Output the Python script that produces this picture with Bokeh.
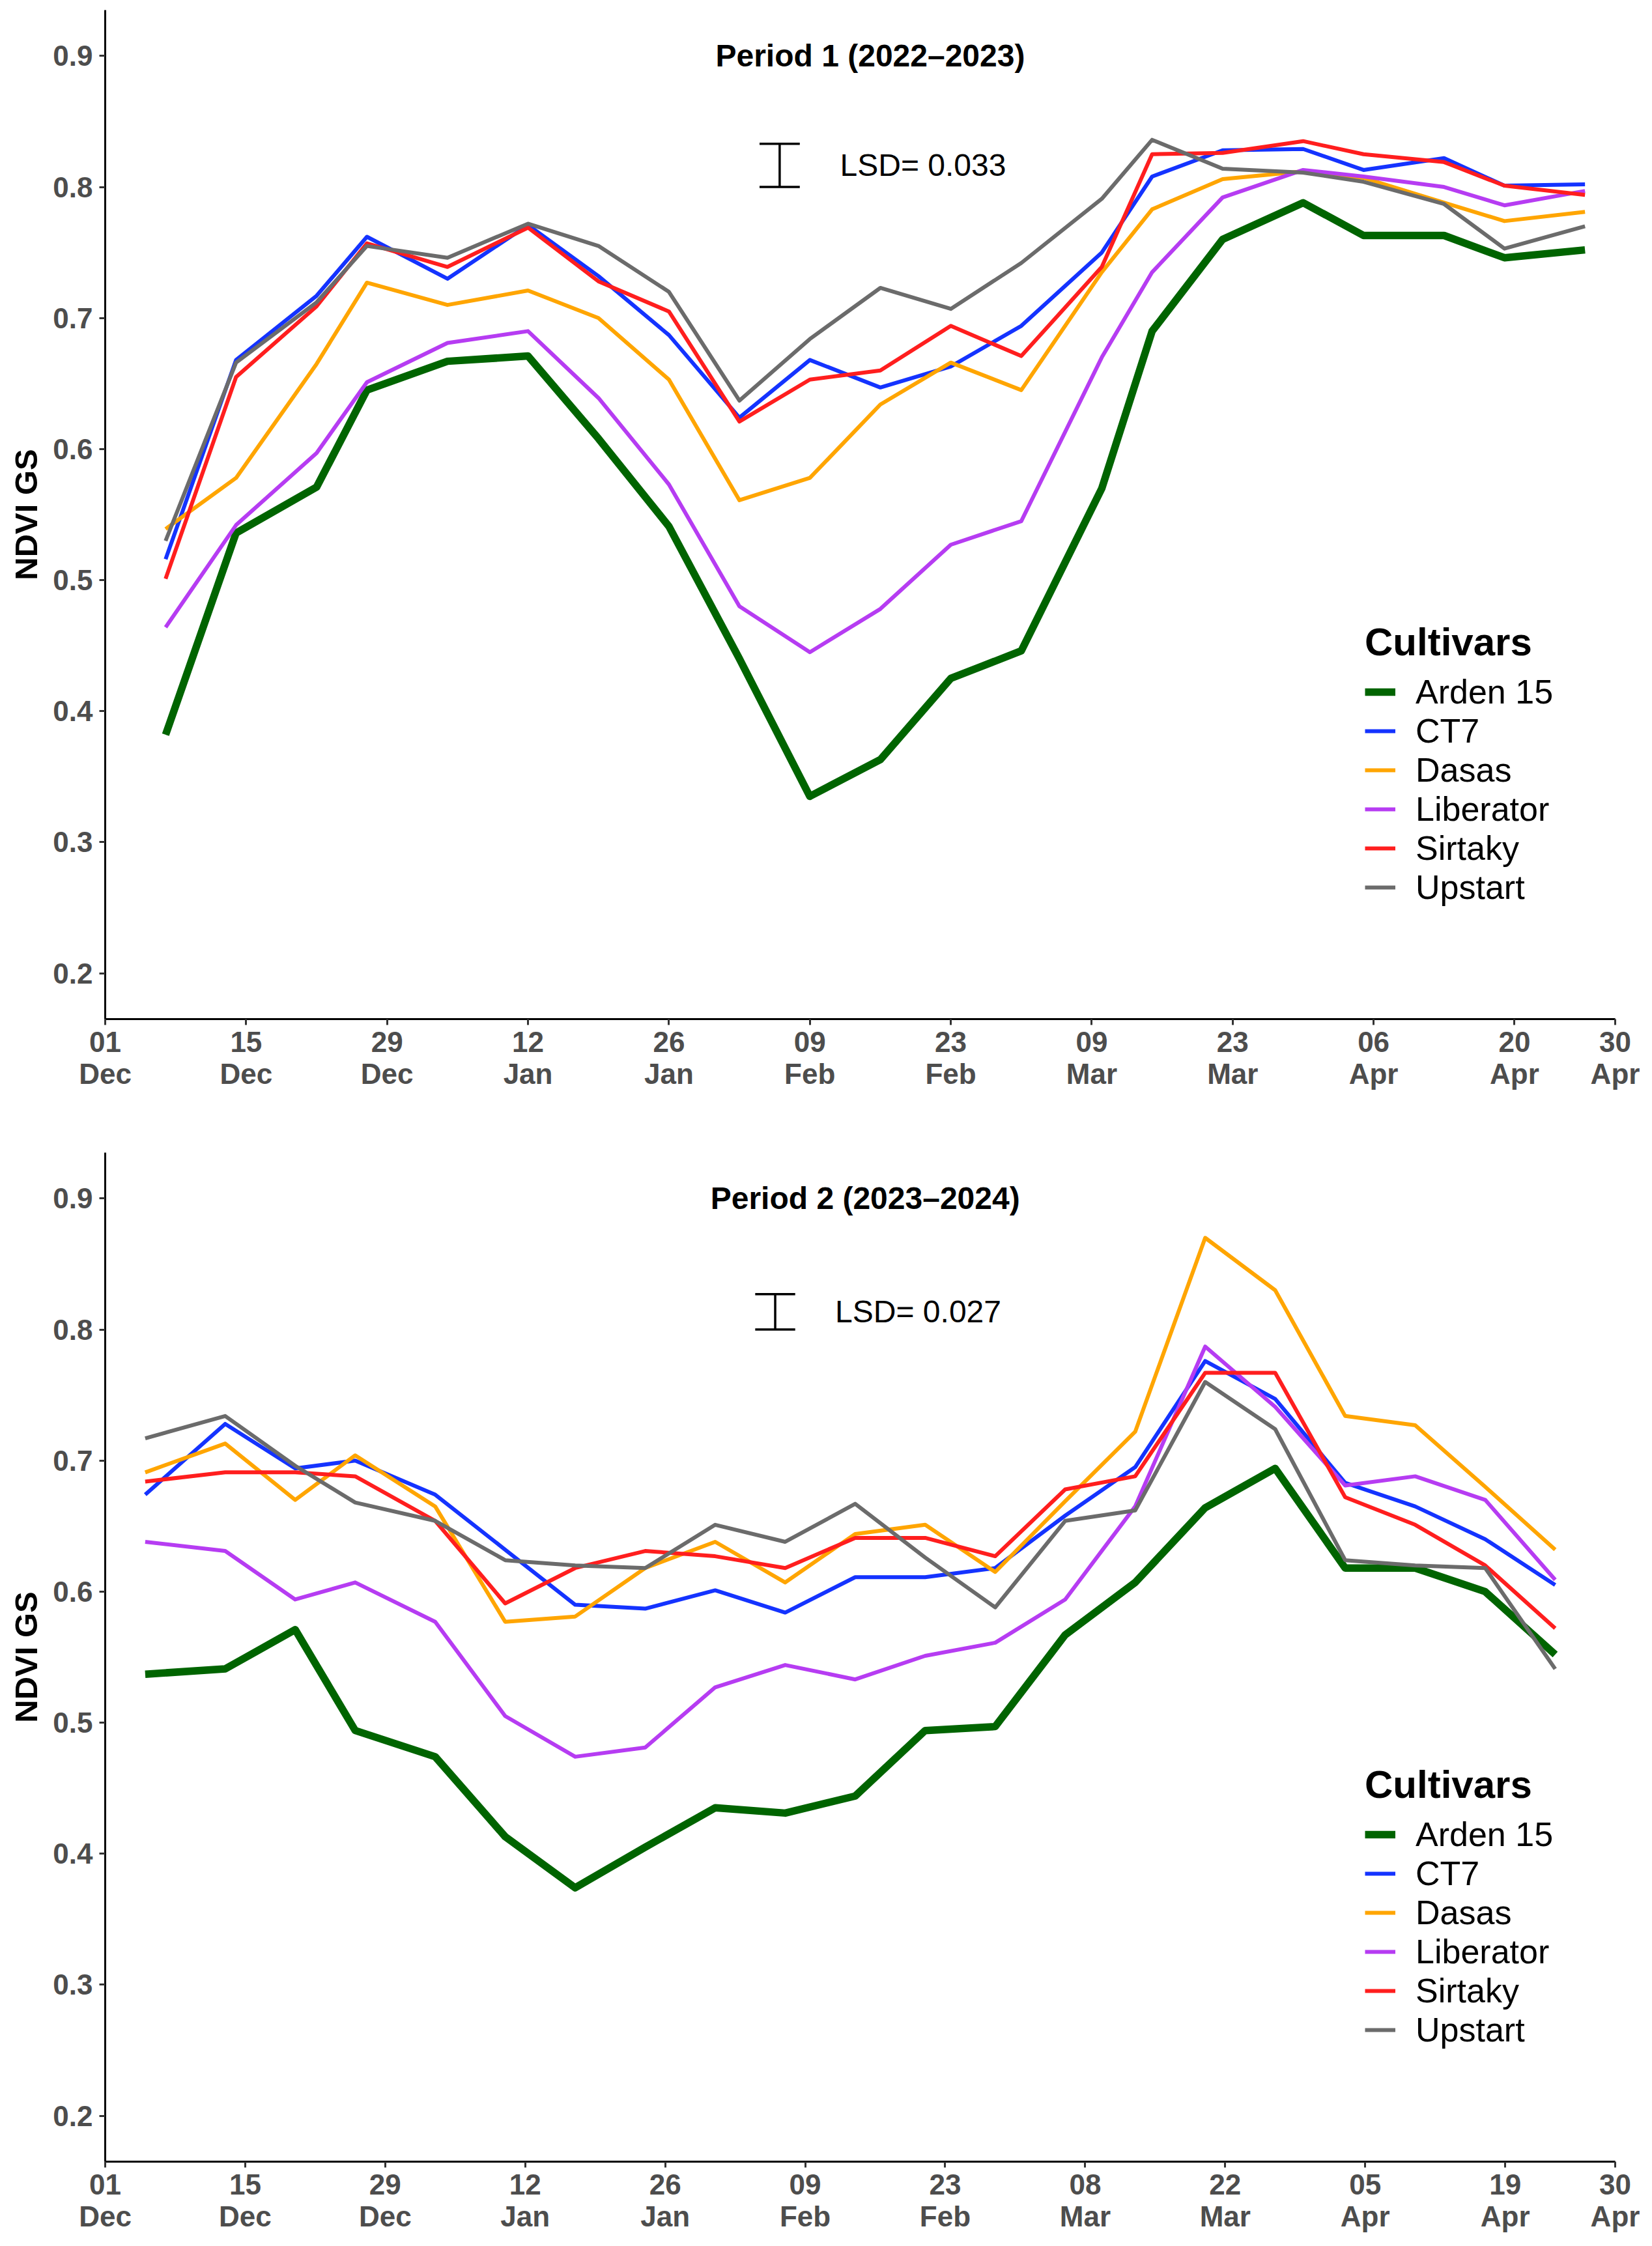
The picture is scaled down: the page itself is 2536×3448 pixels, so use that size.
import pandas as pd
from bokeh.plotting import figure
from bokeh.models import Range1d, FixedTicker, Legend, LegendItem, ColumnDataSource
from bokeh.layouts import column
from bokeh.embed import file_html
from bokeh.resources import INLINE
from bokeh.core.properties import value

# ---------------- data ----------------
cultivars = ["Arden 15", "CT7", "Dasas", "Liberator", "Sirtaky", "Upstart"]
colors = ["#006400", "#1433FF", "#FFA500", "#B63CF2", "#FF1E1E", "#6B6B6B"]
widths = [11.5, 6, 6, 6, 6, 6]
y_ticks = [0.2, 0.3, 0.4, 0.5, 0.6, 0.7, 0.8, 0.9]

# Period 1 (2022-2023)
p1_title = "Period 1 (2022\u20132023)"
p1_start = "2022-12-01"
p1_end = "2023-04-30"
p1_tick_dates = ["2022-12-01", "2022-12-15", "2022-12-29", "2023-01-12", "2023-01-26",
                 "2023-02-09", "2023-02-23", "2023-03-09", "2023-03-23", "2023-04-06",
                 "2023-04-20", "2023-04-30"]
p1_dates = ["2022-12-07", "2022-12-14", "2022-12-22", "2022-12-27", "2023-01-04",
            "2023-01-12", "2023-01-19", "2023-01-26", "2023-02-02", "2023-02-09",
            "2023-02-16", "2023-02-23", "2023-03-02", "2023-03-10", "2023-03-15",
            "2023-03-22", "2023-03-30", "2023-04-05", "2023-04-13", "2023-04-19",
            "2023-04-27"]
p1_arden15 = [0.382, 0.536, 0.571, 0.645, 0.667, 0.671, 0.608, 0.541, 0.440, 0.335,
              0.363, 0.425, 0.446, 0.570, 0.690, 0.760, 0.788, 0.763, 0.763, 0.746, 0.752]
p1_ct7 = [0.516, 0.668, 0.717, 0.762, 0.730, 0.771, 0.732, 0.687, 0.624, 0.668,
          0.647, 0.663, 0.694, 0.750, 0.808, 0.828, 0.829, 0.813, 0.822, 0.801, 0.802]
p1_dasas = [0.539, 0.578, 0.665, 0.727, 0.710, 0.721, 0.700, 0.653, 0.561, 0.578,
            0.634, 0.666, 0.645, 0.735, 0.783, 0.806, 0.812, 0.807, 0.788, 0.774, 0.781]
p1_liberator = [0.464, 0.542, 0.597, 0.651, 0.681, 0.690, 0.639, 0.573, 0.480, 0.445,
                0.478, 0.527, 0.545, 0.670, 0.735, 0.792, 0.813, 0.808, 0.800, 0.786, 0.797]
p1_sirtaky = [0.501, 0.655, 0.709, 0.757, 0.739, 0.769, 0.728, 0.705, 0.621, 0.653,
              0.660, 0.694, 0.671, 0.739, 0.825, 0.826, 0.835, 0.825, 0.819, 0.801, 0.794]
p1_upstart = [0.530, 0.666, 0.712, 0.755, 0.746, 0.772, 0.755, 0.720, 0.637, 0.684,
              0.723, 0.707, 0.742, 0.791, 0.836, 0.814, 0.811, 0.804, 0.787, 0.753, 0.770]
p1_lsd = 0.033
p1_lsd_label = "LSD= 0.033"

# Period 2 (2023-2024)
p2_title = "Period 2 (2023\u20132024)"
p2_start = "2023-12-01"
p2_end = "2024-04-30"
p2_tick_dates = ["2023-12-01", "2023-12-15", "2023-12-29", "2024-01-12", "2024-01-26",
                 "2024-02-09", "2024-02-23", "2024-03-08", "2024-03-22", "2024-04-05",
                 "2024-04-19", "2024-04-30"]
p2_dates = ["2023-12-05", "2023-12-13", "2023-12-20", "2023-12-26", "2024-01-03",
            "2024-01-10", "2024-01-17", "2024-01-24", "2024-01-31", "2024-02-07",
            "2024-02-14", "2024-02-21", "2024-02-28", "2024-03-06", "2024-03-13",
            "2024-03-20", "2024-03-27", "2024-04-03", "2024-04-10", "2024-04-17",
            "2024-04-24"]
p2_arden15 = [0.537, 0.541, 0.571, 0.494, 0.474, 0.413, 0.374, 0.405, 0.435, 0.431,
              0.444, 0.494, 0.497, 0.567, 0.607, 0.664, 0.694, 0.618, 0.618, 0.600, 0.552]
p2_ct7 = [0.674, 0.728, 0.694, 0.700, 0.674, 0.632, 0.590, 0.587, 0.601, 0.584,
          0.611, 0.611, 0.618, 0.658, 0.695, 0.776, 0.747, 0.683, 0.665, 0.640, 0.605]
p2_dasas = [0.691, 0.713, 0.670, 0.704, 0.665, 0.577, 0.581, 0.618, 0.638, 0.607,
            0.644, 0.651, 0.615, 0.669, 0.722, 0.870, 0.830, 0.734, 0.727, 0.680, 0.632]
p2_liberator = [0.638, 0.631, 0.594, 0.607, 0.577, 0.505, 0.474, 0.481, 0.527, 0.544,
                0.533, 0.551, 0.561, 0.594, 0.665, 0.787, 0.741, 0.681, 0.688, 0.670, 0.609]
p2_sirtaky = [0.684, 0.691, 0.691, 0.688, 0.654, 0.591, 0.618, 0.631, 0.627, 0.618,
              0.641, 0.641, 0.627, 0.678, 0.688, 0.767, 0.767, 0.672, 0.651, 0.620, 0.572]
p2_upstart = [0.717, 0.734, 0.696, 0.668, 0.654, 0.624, 0.620, 0.618, 0.651, 0.638,
              0.667, 0.626, 0.588, 0.654, 0.662, 0.760, 0.724, 0.624, 0.620, 0.618, 0.541]
p2_lsd = 0.027
p2_lsd_label = "LSD= 0.027"

# annotation anchors (dates / NDVI levels)
lsd_date_p1 = "2023-02-06"
lsd_date_p2 = "2024-02-06"
lsd_text_date_p1 = "2023-02-12"
lsd_text_date_p2 = "2024-02-12"
title_date_p1 = "2023-02-15"
title_date_p2 = "2024-02-15"
lsd_base = 0.800
title_level = 0.900

FONT = "Liberation Sans"


def day_offset(dates, start):
    s = pd.Timestamp(start)
    return [(pd.Timestamp(d) - s).days for d in dates]


def make_panel(title, start, end, tick_dates, dates, series, lsd, lsd_label,
               lsd_date, lsd_text_date, title_date, border_top, border_bottom, legend_y):
    x = day_offset(dates, start)
    xmax = day_offset([end], start)[0]
    ticks = day_offset(tick_dates, start)
    overrides = {t: pd.Timestamp(d).strftime("%d\n%b") for t, d in zip(ticks, tick_dates)}

    p = figure(frame_width=2318, frame_height=1549,
               x_range=Range1d(0, xmax), y_range=Range1d(0.165, 0.935),
               output_backend="svg", toolbar_location=None,
               min_border_left=161, min_border_right=50,
               min_border_top=border_top, min_border_bottom=border_bottom)
    p.xgrid.visible = False
    p.ygrid.visible = False
    p.outline_line_color = None
    p.background_fill_color = "white"
    p.border_fill_color = "white"

    for ax in (p.xaxis[0], p.yaxis[0]):
        ax.axis_line_color = "black"
        ax.axis_line_width = 3
        ax.major_tick_line_color = "#333333"
        ax.major_tick_line_width = 3
        ax.major_tick_in = 0
        ax.major_tick_out = 9
        ax.minor_tick_line_color = None
        ax.major_label_text_font = FONT
        ax.major_label_text_font_style = "bold"
        ax.major_label_text_font_size = "44px"
        ax.major_label_text_color = "#4D4D4D"

    p.xaxis.ticker = FixedTicker(ticks=ticks)
    p.xaxis.major_label_overrides = overrides
    p.xaxis.major_label_standoff = 1
    p.xaxis.major_label_text_line_height = 1.0
    p.yaxis.ticker = FixedTicker(ticks=y_ticks)
    p.yaxis.major_label_standoff = 10
    p.yaxis.axis_label = "NDVI GS"
    p.yaxis.axis_label_text_font = FONT
    p.yaxis.axis_label_text_font_style = "bold"
    p.yaxis.axis_label_text_font_size = "49px"
    p.yaxis.axis_label_text_color = "black"
    p.yaxis.axis_label_standoff = 11

    items = []
    for name, col, w, ys in zip(cultivars, colors, widths, series):
        r = p.line(x, ys, line_color=col, line_width=w, line_join="round")
        items.append(LegendItem(label=name, renderers=[r]))

    # LSD bar
    lx = day_offset([lsd_date], start)[0]
    tx = day_offset([lsd_text_date], start)[0]
    tt = day_offset([title_date], start)[0]
    src = ColumnDataSource(dict(x0=[lx, lx - 2, lx - 2], x1=[lx, lx + 2, lx + 2],
                                y0=[lsd_base, lsd_base, lsd_base + lsd],
                                y1=[lsd_base + lsd, lsd_base, lsd_base + lsd]))
    p.segment("x0", "y0", "x1", "y1", source=src, line_color="black", line_width=3.5)
    p.text(x=[tx], y=[lsd_base + lsd / 2], text=[lsd_label], text_font=value(FONT),
           text_font_size="48px", text_color="black", text_align="left",
           text_baseline="middle")
    p.text(x=[tt], y=[title_level], text=[title], text_font=value(FONT),
           text_font_size="48px", text_font_style="bold", text_color="black",
           text_align="center", text_baseline="middle")

    legend = Legend(items=items, location=(1934, legend_y), title="Cultivars",
                    title_text_font=FONT, title_text_font_size="60px",
                    title_text_font_style="bold", title_text_color="black",
                    title_standoff=12,
                    label_text_font=FONT, label_text_font_size="52px",
                    label_text_color="black", label_standoff=31,
                    label_text_line_height=1.0,
                    glyph_width=47, glyph_height=56, label_height=56,
                    spacing=0, padding=0, margin=0,
                    border_line_color=None, background_fill_alpha=0)
    p.add_layout(legend, "center")
    return p


p1 = make_panel(p1_title, p1_start, p1_end, p1_tick_dates, p1_dates,
                [p1_arden15, p1_ct7, p1_dasas, p1_liberator, p1_sirtaky, p1_upstart],
                p1_lsd, p1_lsd_label, lsd_date_p1, lsd_text_date_p1, title_date_p1,
                15, 197, 172)
p2 = make_panel(p2_title, p2_start, p2_end, p2_tick_dates, p2_dates,
                [p2_arden15, p2_ct7, p2_dasas, p2_liberator, p2_sirtaky, p2_upstart],
                p2_lsd, p2_lsd_label, lsd_date_p2, lsd_text_date_p2, title_date_p2,
                8, 115, 172)

layout = column(p1, p2, spacing=0)
open("out.html", "w").write(file_html(layout, INLINE))
